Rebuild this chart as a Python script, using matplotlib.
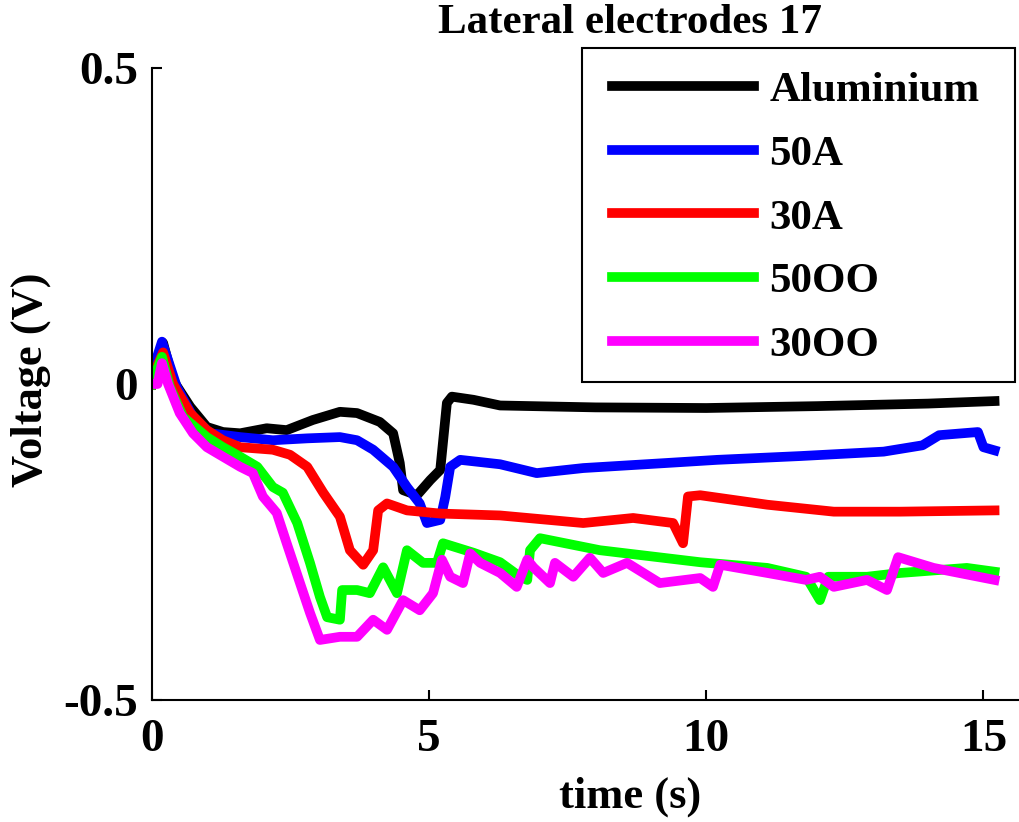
import numpy as np
import matplotlib.pyplot as plt
from matplotlib.patches import Rectangle

plt.rcParams['font.family'] = ['Liberation Serif', 'DejaVu Serif']
plt.rcParams['font.weight'] = 'bold'

# Aluminium
t_al = [0.0, 0.1, 0.2, 0.38, 0.69, 0.99, 1.28, 1.59, 2.07, 2.43, 2.9, 3.39, 3.7,
        4.11, 4.35, 4.47, 4.53, 4.78, 5.02, 5.2, 5.32, 5.41, 5.8, 6.28, 8.0,
        10.0, 12.0, 14.0, 15.2]
v_al = [0.0, 0.04, 0.065, 0.006, -0.036, -0.068, -0.076, -0.078, -0.07, -0.073,
        -0.057, -0.044, -0.046, -0.06, -0.078, -0.125, -0.168, -0.176, -0.152,
        -0.136, -0.03, -0.02, -0.025, -0.034, -0.037, -0.038, -0.035, -0.031, -0.027]

# 50A
t_50a = [0.0, 0.1, 0.18, 0.45, 0.74, 1.05, 1.59, 2.18, 2.8, 3.39, 3.7, 3.99,
         4.35, 4.6, 4.83, 4.96, 5.2, 5.29, 5.38, 5.56, 6.28, 6.94, 7.78, 9.28,
         10.2, 11.7, 13.2, 13.9, 14.2, 14.9, 15.0, 15.2]
v_50a = [0.0, 0.045, 0.067, -0.005, -0.052, -0.078, -0.084, -0.089, -0.086,
         -0.084, -0.089, -0.104, -0.131, -0.163, -0.189, -0.22, -0.215, -0.179,
         -0.131, -0.12, -0.127, -0.141, -0.133, -0.125, -0.12, -0.114, -0.107,
         -0.097, -0.081, -0.076, -0.1, -0.105]

# 30A
t_30a = [0.0, 0.1, 0.2, 0.38, 0.69, 0.99, 1.28, 1.59, 2.18, 2.49, 2.8, 3.09,
         3.39, 3.57, 3.81, 3.99, 4.08, 4.24, 4.6, 5.2, 6.28, 7.78, 8.68, 9.4,
         9.58, 9.67, 9.89, 11.1, 12.3, 13.5, 15.2]
v_30a = [0.0, 0.03, 0.05, 0.0, -0.046, -0.073, -0.089, -0.1, -0.104, -0.112,
         -0.131, -0.172, -0.21, -0.263, -0.286, -0.263, -0.2, -0.189, -0.2,
         -0.205, -0.208, -0.22, -0.212, -0.22, -0.252, -0.178, -0.176, -0.191,
         -0.202, -0.202, -0.2]

# 50OO
t_50oo = [0.0, 0.1, 0.18, 0.32, 0.56, 0.99, 1.28, 1.59, 1.9, 2.18, 2.36, 2.62,
          2.85, 3.03, 3.16, 3.39, 3.43, 3.7, 3.93, 4.17, 4.42, 4.6, 4.89, 5.14,
          5.25, 5.8, 6.28, 6.64, 6.77, 6.82, 7.0, 8.08, 9.89, 11.1, 11.8, 12.05,
          12.2, 12.9, 13.5, 14.7, 15.2]
v_50oo = [0.0, 0.025, 0.043, -0.004, -0.052, -0.084, -0.1, -0.115, -0.131,
          -0.163, -0.172, -0.22, -0.283, -0.337, -0.369, -0.373, -0.326, -0.326,
          -0.331, -0.29, -0.331, -0.263, -0.283, -0.283, -0.252, -0.267, -0.282,
          -0.305, -0.31, -0.263, -0.244, -0.263, -0.282, -0.291, -0.305, -0.342,
          -0.305, -0.305, -0.299, -0.291, -0.297]

# 30OO
t_30oo = [0.0, 0.1, 0.18, 0.29, 0.5, 0.74, 0.99, 1.28, 1.59, 1.82, 2.0, 2.25,
          2.43, 2.67, 2.85, 3.03, 3.39, 3.7, 3.99, 4.24, 4.53, 4.83, 5.07, 5.23,
          5.38, 5.61, 5.74, 5.92, 6.28, 6.58, 6.77, 6.88, 7.18, 7.27, 7.6, 7.9,
          8.14, 8.57, 9.16, 9.89, 10.12, 10.25, 11.1, 11.8, 12.05, 12.3, 12.9,
          13.26, 13.46, 14.1, 15.2]
v_30oo = [0.0, 0.0, 0.033, 0.0, -0.046, -0.078, -0.1, -0.115, -0.131, -0.141,
          -0.178, -0.204, -0.252, -0.315, -0.362, -0.405, -0.4, -0.4, -0.373,
          -0.389, -0.342, -0.358, -0.331, -0.278, -0.305, -0.315, -0.268, -0.283,
          -0.299, -0.321, -0.278, -0.29, -0.315, -0.283, -0.305, -0.275, -0.299,
          -0.283, -0.315, -0.307, -0.321, -0.286, -0.299, -0.31, -0.305, -0.321,
          -0.31, -0.326, -0.274, -0.291, -0.31]

series = [
    ('Aluminium', t_al, v_al, 'k'),
    ('50A', t_50a, v_50a, (0, 0, 1)),
    ('30A', t_30a, v_30a, (1, 0, 0)),
    ('50OO', t_50oo, v_50oo, (0, 1, 0)),
    ('30OO', t_30oo, v_30oo, (1, 0, 1)),
]

W, H = 1019, 822
fig = plt.figure(figsize=(W / 100, H / 100), dpi=100)
ax = fig.add_axes([152 / W, 1 - 700 / H, 16 * 55.43 / W, 632 / H])

lines = []
for name, t, v, c in series:
    ln, = ax.plot(t, v, color=c, lw=7, label=name, solid_joinstyle='round')
    lines.append(ln)

ax.set_xlim(0, 16)
ax.set_ylim(-0.5, 0.5)
ax.set_xticks([0, 5, 10, 15])
ax.set_yticks([-0.5, 0, 0.5])
ax.set_yticklabels(['-0.5', '0', '0.5'])
ax.spines['top'].set_visible(False)
ax.spines['right'].set_visible(False)
for s in ['left', 'bottom']:
    ax.spines[s].set_linewidth(1.5)
ax.tick_params(direction='in', length=7, width=1.5, labelsize=34)
ax.tick_params(axis='x', pad=14)
ax.tick_params(axis='y', pad=10)

ax.set_xlabel('time (s)', fontsize=32, fontweight='bold')
ax.xaxis.set_label_coords(478 / 887, -77 / 632)
ax.set_ylabel('Voltage (V)', fontsize=32, fontweight='bold', va='center')
ax.yaxis.set_label_coords(-121 / 887, (700 - 380) / 632)

fig.text(630 / W, 1 - 23 / H, 'Lateral electrodes 17', fontsize=31,
         fontweight='bold', ha='center', va='center')

leg = fig.legend(handles=lines, loc='upper left', frameon=False,
                 fontsize=31, handlelength=3.3, handletextpad=0.35,
                 labelspacing=0.57, borderpad=0.0, borderaxespad=0.0)
leg.set_bbox_to_anchor((612 / W, 1 - 71 / H), transform=fig.transFigure)
for h in leg.legend_handles:
    h.set_linewidth(7)

fig.patches.append(Rectangle((582 / W, 1 - 382 / H), (1015 - 582) / W,
                             (382 - 48) / H, transform=fig.transFigure,
                             fill=False, edgecolor='k', lw=1.5))

fig.savefig('out.png', dpi=100)
